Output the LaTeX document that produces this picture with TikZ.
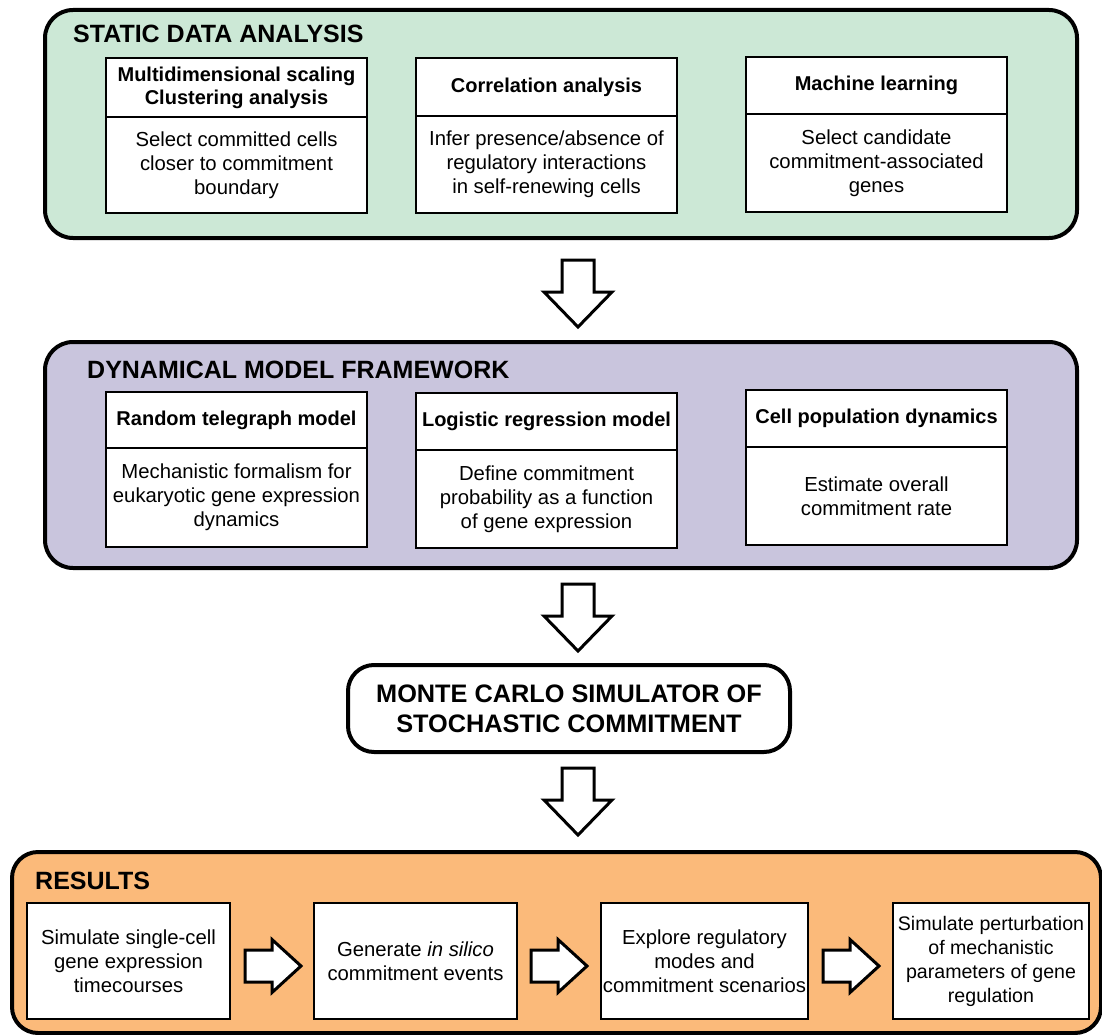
\documentclass[tikz,border=0pt]{standalone}
\usepackage{fontspec}
\setmainfont{Liberation Sans}
\definecolor{greenbg}{RGB}{204,232,214}
\definecolor{purplebg}{RGB}{201,197,221}
\definecolor{orangebg}{RGB}{251,186,122}
\newcommand\hdrf{\fontsize{20}{23}\selectfont\bfseries}
\newcommand\bodyf{\fontsize{20.3}{24}\selectfont}
\newcommand\titlef{\fontsize{25}{28}\selectfont\bfseries}
\newcommand\twobox[7]{%
  \node[hdr, minimum height=#4pt, anchor=north west] (#1h) at (#2,#3) {#6};
  \node[bodybox, minimum height=#5pt, anchor=north] (#1b) at (#1h.south) {#7};}
\newcommand\dnarrow[1]{\draw[blockarrow] (#1) ++(-16,0) -- ++(32,0) -- ++(0,32) -- ++(18,0) -- ++(-34,35) -- ++(-34,-35) -- ++(18,0) -- cycle;}
\newcommand\rtarrow[1]{\draw[blockarrow] (#1) ++(0,-16) -- ++(27,0) -- ++(0,-10.5) -- ++(29,26.5) -- ++(-29,26.5) -- ++(0,-10.5) -- ++(-27,0) -- cycle;}
\begin{document}
\begin{tikzpicture}[x=1pt,y=-1pt,
  panel/.style={draw, line width=4pt, rounded corners=28pt, inner sep=0pt, outer sep=0pt},
  hdr/.style={draw, line width=2pt, fill=white, minimum width=261pt, align=center, font=\hdrf, inner sep=0pt, outer sep=0pt},
  bodybox/.style={draw, line width=2pt, fill=white, minimum width=261pt, align=center, font=\bodyf, inner sep=0pt, outer sep=0pt},
  resbox/.style={draw, line width=2pt, fill=white, minimum height=116pt, align=center, font=\bodyf, inner sep=0pt, outer sep=0pt},
  ptitle/.style={anchor=base west, font=\titlef, inner sep=0pt},
  blockarrow/.style={draw, line width=3pt, fill=white, line join=miter},
  mcbox/.style={draw, line width=4pt, rounded corners=26pt, fill=white, align=center, font=\fontsize{25.3}{30}\selectfont\bfseries, inner sep=0pt}]
\useasboundingbox (0,0) rectangle (1102,1035);
\fill[white] (0,0) rectangle (1102,1035);

% STATIC DATA ANALYSIS
\node[panel, fill=greenbg, minimum width=1032pt, minimum height=228pt, anchor=north west] (sda) at (45,10) {};
\node[ptitle] (sdat) at (73,43) {STATIC DATA ANALYSIS};
\twobox{sa}{106}{58}{59}{96}{Multidimensional scaling\\Clustering analysis}{Select committed cells\\closer to commitment\\boundary}
\twobox{sb}{416}{58}{58}{97}{Correlation analysis}{Infer presence/absence of\\regulatory interactions\\in self-renewing cells}
\twobox{sc}{746}{57}{57}{98}{Machine learning}{Select candidate\\commitment-associated\\genes}

% arrow 1
\coordinate (ar1) at (578,260);
\dnarrow{ar1}

% DYNAMICAL MODEL FRAMEWORK
\node[panel, fill=purplebg, minimum width=1032pt, minimum height=226pt, anchor=north west] (dmf) at (45,342) {};
\node[ptitle] (dmft) at (87,378) {DYNAMICAL MODEL FRAMEWORK};
\twobox{da}{106}{392}{56}{99}{Random telegraph model}{Mechanistic formalism for\\eukaryotic gene expression\\dynamics}
\twobox{db}{416}{393}{57}{98}{Logistic regression model}{Define commitment\\probability as a function\\of gene expression}
\twobox{dc}{746}{390}{57}{98}{Cell population dynamics}{Estimate overall\\commitment rate}

% arrow 2
\coordinate (ar2) at (578,584);
\dnarrow{ar2}

% Monte Carlo
\node[mcbox, minimum width=442pt, minimum height=87pt] (mc) at (569,708.5) {MONTE CARLO SIMULATOR OF\\STOCHASTIC COMMITMENT};

% arrow 3
\coordinate (ar3) at (578,768);
\dnarrow{ar3}

% RESULTS
\node[panel, rounded corners=26pt, fill=orangebg, minimum width=1089pt, minimum height=181pt, anchor=north west] (res) at (12,852) {};
\node[ptitle] (rest) at (35,889) {RESULTS};
\node[resbox, minimum width=203pt] (r1) at (128.5,961) {Simulate single-cell\\gene expression\\timecourses};
\node[resbox, minimum width=203pt] (r2) at (415.5,961) {Generate \textit{in silico}\\commitment events};
\node[resbox, minimum width=207pt] (r3) at (704.5,961) {Explore regulatory\\modes and\\commitment scenarios};
\node[resbox, minimum width=196pt, font=\fontsize{19.6}{24}\selectfont] (r4) at (991,961) {Simulate perturbation\\of mechanistic\\parameters of gene\\regulation};
\coordinate (ra1) at (245,966);
\coordinate (ra2) at (531,966);
\coordinate (ra3) at (823,966);
\rtarrow{ra1}
\rtarrow{ra2}
\rtarrow{ra3}
\end{tikzpicture}
\end{document}
